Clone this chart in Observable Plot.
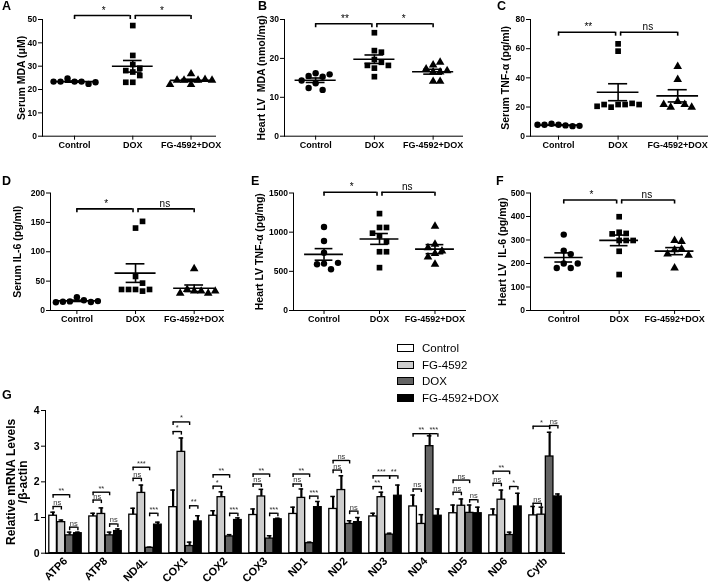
<!DOCTYPE html>
<html><head><meta charset="utf-8">
<script src="https://cdn.jsdelivr.net/npm/d3@7"></script>
<script src="https://cdn.jsdelivr.net/npm/@observablehq/plot@0.6"></script>
<style>
body{margin:0;background:#fff;}
#fig{position:relative;width:708px;height:587px;overflow:hidden;font-family:"Liberation Sans",Arial,sans-serif;color:#000;}
.panel{position:absolute;will-change:transform;}
.panel svg{overflow:visible;}
.letter{position:absolute;font-weight:bold;font-size:12.5px;line-height:1;}
.panel g[aria-label="y-axis tick label"]{font-size:8.5px;}
.panel g[aria-label="x-axis tick label"]{font-size:9px;}
.panel g[aria-label="y-axis label"]{font-size:10.5px;}
#pG g[aria-label="y-axis tick label"]{font-size:10.5px;}
#pG g[aria-label="fx-axis tick label"]{font-size:11px;}
#pG g[aria-label="y-axis label"]{font-size:12px;}
.legend{position:absolute;left:397px;top:340px;font-size:11.5px;will-change:transform;}
.legend .row{height:16.6px;display:flex;align-items:center;}
.legend .sw{width:15px;height:6px;border:1.4px solid #000;margin-right:8px;}
</style></head>
<body><div id="fig"></div>
<script>
// ---------- Data: panels A-F (individual animals) ----------
const categories = ["Control", "DOX", "FG-4592+DOX"];
const symbols = ["circle", "square", "triangle"];

const mdaSerumControl = [23.4, 23.4, 24.7, 22.4, 23.4, 23.1, 23.4];
const mdaSerumDox = [47.4, 34.6, 30.7, 29.1, 28.1, 27.5, 26.0, 23.1, 23.1];
const mdaSerumFgDox = [26.7, 24.0, 24.0, 24.3, 24.0, 24.0, 22.1, 22.1];

const mdaHeartControl = [16.2, 15.3, 15.5, 15.9, 13.6, 14.3, 11.9, 12.4];
const mdaHeartDox = [26.6, 22.0, 21.6, 19.7, 19.0, 18.2, 18.2, 17.5, 15.3];
const mdaHeartFgDox = [18.3, 19.0, 17.3, 16.5, 16.5, 16.8, 14.1, 14.1];

const tnfSerumControl = [7.8, 7.4, 8.5, 6.9, 7.8, 7.1, 7.8];
const tnfSerumDox = [63.3, 58.3, 21.7, 21.7, 19.9, 22.5, 21.7, 21.7, 20.5];
const tnfSerumFgDox = [47.8, 38.9, 23.8, 21.7, 19.9, 19.9, 21.7];

const il6SerumControl = [22.7, 17.5, 15.5, 14.5, 15.0, 16.0, 14.0];
const il6SerumDox = [140.3, 151.7, 58.0, 46.6, 35.8, 35.8, 33.0, 35.8, 35.8];
const il6SerumFgDox = [71.0, 33.0, 33.0, 35.8, 29.5, 29.5, 33.0];

const tnfHeartControl = [1065, 888, 737, 599, 526, 590, 608];
const tnfHeartDox = [1237, 1060, 1060, 987, 953, 879, 750, 750, 547];
const tnfHeartFgDox = [1075, 846, 727, 760, 800, 683, 590];

const il6HeartControl = [323, 255, 240, 200, 181, 181, 200];
const il6HeartDox = [399, 333, 328, 326, 298, 298, 298, 252, 153];
const il6HeartFgDox = [298, 294, 258, 262, 240, 235, 181];

// significance brackets (height in data units, labels left/right)
const sigA = ["*", "*"], bracketA = 51.7;
const sigB = ["**", "*"], bracketB = 28.9;
const sigC = ["**", "ns"], bracketC = 71.3;
const sigD = ["*", "ns"], bracketD = 173;
const sigE = ["*", "ns"], bracketE = 1510;
const sigF = ["*", "ns"], bracketF = 470;

// ---------- Data: panel G ----------
const genes = ["ATP6","ATP8","ND4L","COX1","COX2","COX3","ND1","ND2","ND3","ND4","ND5","ND6","Cytb"];
const groups = ["Control","FG-4592","DOX","FG-4592+DOX"];
const groupFills = ["#ffffff","#cdcdcd","#636363","#000000"];
const mrnaControl = [1.05,1.03,1.08,1.29,1.05,1.07,1.10,1.24,1.03,1.31,1.12,1.06,1.06];
const mrnaControlSem = [0.10,0.09,0.18,0.48,0.14,0.17,0.19,0.35,0.09,0.32,0.23,0.18,0.25];
const mrnaFg = [0.87,1.10,1.69,2.84,1.57,1.59,1.55,1.77,1.57,0.82,1.33,1.50,1.08];
const mrnaFgSem = [0.06,0.17,0.22,0.39,0.15,0.20,0.25,0.40,0.14,0.26,0.19,0.27,0.21];
const mrnaDox = [0.50,0.50,0.15,0.20,0.47,0.41,0.28,0.82,0.52,3.00,1.13,0.51,2.71];
const mrnaDoxSem = [0.09,0.09,0.02,0.11,0.05,0.08,0.03,0.09,0.04,0.29,0.22,0.08,0.68];
const mrnaFgDox = [0.56,0.62,0.80,0.89,0.93,0.95,1.29,0.87,1.61,1.05,1.12,1.31,1.59];
const mrnaFgDoxSem = [0.03,0.06,0.07,0.16,0.06,0.03,0.16,0.13,0.30,0.19,0.17,0.37,0.07];
// brackets: [gene, group index a, group index b, height, label]
const mrnaBrackets = [
  ["ATP6",0,1,1.31,"ns"],["ATP6",0,2,1.64,"**"],["ATP6",2,3,0.73,"ns"],
  ["ATP8",0,1,1.49,"ns"],["ATP8",0,2,1.71,"**"],["ATP8",2,3,0.82,"ns"],
  ["ND4L",0,1,2.10,"ns"],["ND4L",0,2,2.41,"***"],["ND4L",2,3,1.12,"***"],
  ["COX1",0,1,3.41,"*"],["COX1",0,2,3.68,"*"],["COX1",2,3,1.33,"**"],
  ["COX2",0,1,1.88,"*"],["COX2",0,2,2.20,"**"],["COX2",2,3,1.12,"***"],
  ["COX3",0,1,1.94,"ns"],["COX3",0,2,2.22,"**"],["COX3",2,3,1.12,"***"],
  ["ND1",0,1,1.94,"ns"],["ND1",0,2,2.22,"**"],["ND1",2,3,1.60,"***"],
  ["ND2",0,1,2.33,"ns"],["ND2",0,2,2.60,"ns"],["ND2",2,3,1.18,"ns"],
  ["ND3",0,1,1.87,"**"],["ND3",0,2,2.17,"***"],["ND3",2,3,2.17,"**"],
  ["ND4",0,1,1.80,"ns"],["ND4",0,2,3.35,"**"],["ND4",2,3,3.35,"***"],
  ["ND5",0,1,1.71,"ns"],["ND5",0,2,2.05,"ns"],["ND5",2,3,1.50,"ns"],
  ["ND6",0,1,1.96,"ns"],["ND6",0,2,2.30,"**"],["ND6",2,3,1.87,"*"],
  ["Cytb",0,1,1.40,"ns"],["Cytb",0,2,3.56,"*"],["Cytb",2,3,3.58,"ns"]
];

const FONT = "Liberation Sans, Arial, sans-serif";
const fig = document.getElementById("fig");

// deterministic swarm layout (like a dodge): horizontal offsets in px
function swarm(vals, pxPerY, d) {
  const placed = [];
  return vals.map(v => {
    const y = v * pxPerY;
    for (let k = 0; k < 60; k++) {
      const off = (k % 2 ? 1 : -1) * Math.ceil(k / 2) * d;
      if (placed.every(p => Math.hypot(p[0] - off, p[1] - y) >= d - 0.01)) { placed.push([off, y]); return off; }
    }
    return 0;
  });
}

function addPanel(id, left, top, node) {
  const div = document.createElement("div");
  div.className = "panel"; div.id = id;
  div.style.left = left + "px"; div.style.top = top + "px";
  div.appendChild(node); fig.appendChild(div);
}

function scatterPanel(id, c) {
  const H = 160;
  const pxPerY = (c.zeroY - c.topY) / c.yMax;
  const pxPerX = (c.frameRight - c.frameLeft) / (c.xDomain[1] - c.xDomain[0]);
  const points = c.series.flatMap((vals, i) => {
    const offs = swarm(vals, pxPerY, 7);
    return vals.map((v, j) => ({grp: categories[i], x: i + offs[j] / pxPerX, v}));
  });
  const stats = c.series.map((vals, i) => {
    const m = d3.mean(vals), s = d3.deviation(vals) / Math.sqrt(vals.length);
    return {i, m, lo: m - s, hi: m + s};
  });
  const caps = stats.flatMap(d => [{i: d.i, y: d.lo}, {i: d.i, y: d.hi}]);
  const drop = c.yMax * 0.034;
  const L = {a: 0, b: 1, h: c.bracket, label: c.sig[0]};
  const R = {a: 1, b: 2, h: c.bracket, label: c.sig[1]};
  const gap = 2.5, sw = 1.6;
  const y1 = d => d.h - drop;
  const svg = Plot.plot({
    width: c.width, height: H,
    marginLeft: c.frameLeft - c.left, marginRight: c.left + c.width - c.frameRight,
    marginTop: c.topY - c.top, marginBottom: c.top + H - c.zeroY,
    style: {fontFamily: FONT, fontSize: "9px", fontWeight: "bold", background: "transparent", overflow: "visible"},
    x: {domain: c.xDomain, ticks: [0, 1, 2], tickFormat: i => categories[i], tickSize: 4, tickPadding: 1.5, line: true, label: null},
    y: {domain: [0, c.yMax], ticks: c.ticks, tickFormat: d3.format("d"), tickSize: 4, tickPadding: 1.5, line: true,
        label: c.label, labelAnchor: "center", labelOffset: c.labelOffset, labelArrow: "none"},
    symbol: {domain: categories, range: symbols},
    marks: [
      Plot.ruleY(stats, {x1: d => d.i - 0.35, x2: d => d.i + 0.35, y: "m", strokeWidth: sw}),
      Plot.ruleX(stats, {x: "i", y1: "lo", y2: "hi", strokeWidth: sw}),
      Plot.ruleY(caps, {x1: d => d.i - 0.16, x2: d => d.i + 0.16, y: "y", strokeWidth: sw}),
      Plot.dot(points, {x: "x", y: "v", symbol: "grp", r: 3.2, fill: "black", stroke: "none"}),
      Plot.ruleY([L], {x1: "a", x2: "b", y: "h", insetRight: gap, strokeWidth: sw}),
      Plot.ruleX([L], {x: "a", y1, y2: "h", strokeWidth: sw}),
      Plot.ruleX([L], {x: "b", y1, y2: "h", dx: -gap, strokeWidth: sw}),
      Plot.ruleY([R], {x1: "a", x2: "b", y: "h", insetLeft: gap, strokeWidth: sw}),
      Plot.ruleX([R], {x: "a", y1, y2: "h", dx: gap, strokeWidth: sw}),
      Plot.ruleX([R], {x: "b", y1, y2: "h", strokeWidth: sw}),
      Plot.text([L, R], {x: d => (d.a + d.b) / 2, y: "h", text: "label", dy: -2, lineAnchor: "bottom",
        fontSize: 10, fontWeight: "normal", fill: "black"})
    ]
  });
  addPanel(id, c.left, c.top, svg);
}

const row1 = {top: 0, topY: 19, zeroY: 135.7, width: 236};
const row2 = {top: 172, topY: 192.5, zeroY: 310, width: 236};

scatterPanel("pA", {...row1, left: 0, frameLeft: 42, frameRight: 215, xDomain: [-0.55, 2.42], yMax: 50,
  ticks: [0,10,20,30,40,50], label: "Serum MDA (μM)", labelOffset: 25,
  series: [mdaSerumControl, mdaSerumDox, mdaSerumFgDox], bracket: bracketA, sig: sigA});
scatterPanel("pB", {...row1, left: 236, frameLeft: 284, frameRight: 462, xDomain: [-0.53, 2.5], yMax: 30,
  ticks: [0,10,20,30], label: "Heart LV  MDA (nmol/mg)", labelOffset: 27,
  series: [mdaHeartControl, mdaHeartDox, mdaHeartFgDox], bracket: bracketB, sig: sigB});
scatterPanel("pC", {...row1, left: 472, frameLeft: 530, frameRight: 707, xDomain: [-0.47, 2.5], yMax: 80,
  ticks: [0,20,40,60,80], label: "Serum TNF-α (pg/ml)", labelOffset: 29,
  series: [tnfSerumControl, tnfSerumDox, tnfSerumFgDox], bracket: bracketC, sig: sigC});
scatterPanel("pD", {...row2, left: 0, frameLeft: 50, frameRight: 223, xDomain: [-0.45, 2.5], yMax: 200,
  ticks: [0,50,100,150,200], label: "Serum IL-6 (pg/ml)", labelOffset: 37,
  series: [il6SerumControl, il6SerumDox, il6SerumFgDox], bracket: bracketD, sig: sigD});
scatterPanel("pE", {...row2, left: 236, frameLeft: 293, frameRight: 465, xDomain: [-0.55, 2.55], yMax: 1500,
  ticks: [0,500,1000,1500], label: "Heart LV TNF-α (pg/mg)", labelOffset: 38,
  series: [tnfHeartControl, tnfHeartDox, tnfHeartFgDox], bracket: bracketE, sig: sigE});
scatterPanel("pF", {...row2, left: 472, frameLeft: 530, frameRight: 699, xDomain: [-0.6, 2.45], yMax: 500,
  ticks: [0,100,200,300,400,500], label: "Heart LV  IL-6 (pg/mg)", labelOffset: 32,
  series: [il6HeartControl, il6HeartDox, il6HeartFgDox], bracket: bracketF, sig: sigF});

// ---------- Panel G ----------
const gSeries = [mrnaControl, mrnaFg, mrnaDox, mrnaFgDox];
const gSem = [mrnaControlSem, mrnaFgSem, mrnaDoxSem, mrnaFgDoxSem];
const bars = genes.flatMap((g, gi) => groups.map((grp, k) => ({gene: g, k, group: grp, v: gSeries[k][gi], e: gSem[k][gi]})));
const brk = mrnaBrackets.map(([gene, a, b, h, label]) => ({gene, a, b, h, label}));
const brkEnds = brk.flatMap(d => [{gene: d.gene, x: d.a, h: d.h}, {gene: d.gene, x: d.b, h: d.h}]);
const gTop = 390, gW = 580, gH = 197;
const gPlot = Plot.plot({
  width: gW, height: gH,
  marginLeft: 44, marginRight: gW - 565, marginTop: 410 - gTop, marginBottom: gTop + gH - 552.7,
  style: {fontFamily: FONT, fontSize: "10px", fontWeight: "bold", background: "transparent", overflow: "visible"},
  fx: {domain: genes, padding: 0, axis: "bottom", tickRotate: -45, tickSize: 0, tickPadding: 6, label: null},
  x: {domain: [-0.92, 3.92], axis: null},
  y: {domain: [0, 4], ticks: [0,1,2,3,4], tickFormat: d3.format("d"), tickSize: 4, tickPadding: 2, line: true,
      label: "Relative mRNA Levels\n/β-actin", labelAnchor: "center", labelOffset: 39, labelArrow: "none"},
  color: {domain: groups, range: groupFills},
  marks: [
    Plot.rectY(bars, {fx: "gene", x1: d => d.k - 0.46, x2: d => d.k + 0.46, y1: 0, y2: "v", fill: "group", stroke: "black", strokeWidth: 1.3}),
    Plot.ruleX(bars, {fx: "gene", x: "k", y1: "v", y2: d => d.v + d.e, strokeWidth: 2.2}),
    Plot.ruleY(bars, {fx: "gene", x1: d => d.k - 0.28, x2: d => d.k + 0.28, y: d => d.v + d.e, strokeWidth: 1.5}),
    Plot.ruleY([0], {strokeWidth: 1.5}),
    Plot.ruleY(brk, {fx: "gene", x1: "a", x2: "b", y: "h", strokeWidth: 1.4}),
    Plot.ruleX(brkEnds, {fx: "gene", x: "x", y1: d => d.h - 0.1, y2: "h", strokeWidth: 1.4}),
    Plot.text(brk, {fx: "gene", x: d => (d.a + d.b) / 2, y: "h", text: "label", dy: -1.5, lineAnchor: "bottom",
      fontSize: 7.5, fontWeight: "normal", fill: "#333"})
  ]
});
addPanel("pG", 0, gTop, gPlot);

// legend for G
const lg = document.createElement("div");
lg.className = "legend";
groups.forEach((g, i) => {
  const row = document.createElement("div"); row.className = "row";
  const sw = document.createElement("div"); sw.className = "sw"; sw.style.background = groupFills[i];
  const tx = document.createElement("span"); tx.textContent = g;
  row.appendChild(sw); row.appendChild(tx); lg.appendChild(row);
});
fig.appendChild(lg);

// panel letters
[["A",2,0],["B",258,0],["C",497,0],["D",2,174.5],["E",251,174.5],["F",496,174.5],["G",2,388.5]].forEach(([t,x,y]) => {
  const d = document.createElement("div"); d.className = "letter"; d.textContent = t;
  d.style.left = x + "px"; d.style.top = y + "px"; fig.appendChild(d);
});
</script></body></html>
